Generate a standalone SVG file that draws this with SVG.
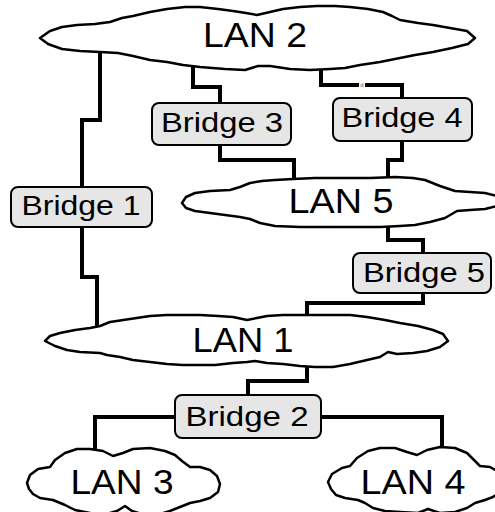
<svg xmlns="http://www.w3.org/2000/svg" width="495" height="512" viewBox="0 0 495 512">
<style>
.cloud{fill:#fff;stroke:#000;stroke-width:2.5;stroke-linejoin:round}
.box{fill:#e6e6e6;stroke:#000;stroke-width:2}
.lan{font-family:"Liberation Sans",Arial,sans-serif;font-size:35px;fill:#000}
.br{font-family:"Liberation Sans",Arial,sans-serif;font-size:28px;fill:#000}
.wire{fill:none;stroke:#000;stroke-width:4;stroke-linejoin:miter;stroke-linecap:square}
</style>
<rect width="495" height="512" fill="#fff"/>
<g id="connectors">
<path class="wire" d="M100,55 V120 H82 V187"/>
<path class="wire" d="M82,227 V277 H97 V325"/>
<path class="wire" d="M193,68 V87 H220 V103"/>
<path class="wire" d="M220,145 V160 H294 V178"/>
<path class="wire" d="M321,66 V85 H357 M367,85 H402 V98"/>
<path class="wire" d="M402,141 V160 H388 V178"/>
<path class="wire" d="M388,227 V240 H423 V253"/>
<path class="wire" d="M423,293 V303 H307 V317"/>
<path class="wire" d="M307,365 V381 H248 V395"/>
<path class="wire" d="M175,417 H95 V450"/>
<path class="wire" d="M321,417 H442 V453"/>
<text x="362" y="87" font-family="Liberation Sans,Arial,sans-serif" font-size="6" fill="#555" text-anchor="middle">d</text>
</g>
<g id="lan2">
<path class="cloud" d="M40,38 L50,31 L62,27 L77,25 L95,24 L110,22 L122,18 L133,16 L150,12 L167,9 L185,7 L200,7 L218,9 L233,11 L246,13 L257,15 L270,12 L283,9 L300,7 L317,6 L335,6 L350,7 L368,9 L383,12 L392,16 L400,20 L418,23 L433,25 L450,28 L467,31 L475,38 L468,44 L452,48 L433,52 L415,55 L400,58 L380,62 L360,65 L345,68 L330,69 L310,70 L290,69 L270,66 L258,66 L245,70 L225,69 L200,67 L183,65 L167,62 L150,60 L133,56 L118,53 L100,52 L80,51 L62,49 L48,44 Z"/>
<text class="lan" x="255" y="47" text-anchor="middle" textLength="104" lengthAdjust="spacingAndGlyphs">LAN 2</text>
</g>
<g id="bridge3">
<rect class="box" x="152" y="103" width="139" height="42" rx="7"/>
<text class="br" x="222" y="132" text-anchor="middle" textLength="122" lengthAdjust="spacingAndGlyphs">Bridge 3</text>
</g>
<g id="bridge4">
<rect class="box" x="333" y="98" width="139" height="43" rx="7"/>
<text class="br" x="402" y="127" text-anchor="middle" textLength="121" lengthAdjust="spacingAndGlyphs">Bridge 4</text>
</g>
<g id="bridge1">
<rect class="box" x="11" y="187" width="141" height="40" rx="7"/>
<text class="br" x="81" y="215" text-anchor="middle" textLength="119" lengthAdjust="spacingAndGlyphs">Bridge 1</text>
</g>
<g id="lan5">
<path class="cloud" d="M182,203 L186,197 L195,193 L210,191 L230,190 L240,187 L250,183 L262,181 L275,180 L293,179 L315,178 L340,178 L370,178 L395,177 L413,178 L425,180 L440,186 L455,191 L470,192 L485,193 L497,196 L500,200 L497,206 L485,209 L470,210 L457,211 L445,218 L430,222 L415,225 L400,226 L380,227 L355,227 L330,227 L300,227 L275,226 L260,223 L250,219 L240,217 L225,215 L210,213 L195,211 L186,208 Z"/>
<text class="lan" x="341" y="213" text-anchor="middle" textLength="105" lengthAdjust="spacingAndGlyphs">LAN 5</text>
</g>
<g id="bridge5">
<rect class="box" x="353" y="253" width="138" height="40" rx="7"/>
<text class="br" x="424" y="282" text-anchor="middle" textLength="122" lengthAdjust="spacingAndGlyphs">Bridge 5</text>
</g>
<g id="lan1">
<path class="cloud" d="M45,341 L50,336 L60,333 L75,330 L90,328 L100,326 L110,322 L130,319 L150,316 L167,315 L183,315 L200,315 L218,316 L233,317 L247,320 L257,318 L267,316 L283,315 L300,315 L317,315 L333,315 L350,315 L367,317 L385,320 L400,323 L418,326 L433,330 L443,334 L448,341 L440,347 L427,351 L413,353 L397,354 L388,352 L380,357 L367,360 L350,364 L333,367 L315,367 L300,366 L283,364 L267,363 L255,361 L247,362 L233,363 L215,365 L200,365 L183,365 L167,364 L150,362 L133,360 L120,357 L107,355 L100,353 L80,352 L67,350 L55,346 Z"/>
<text class="lan" x="243" y="352" text-anchor="middle" textLength="101" lengthAdjust="spacingAndGlyphs">LAN 1</text>
</g>
<g id="bridge2">
<rect class="box" x="175" y="395" width="146" height="43" rx="7"/>
<text class="br" x="247" y="426" text-anchor="middle" textLength="123" lengthAdjust="spacingAndGlyphs">Bridge 2</text>
</g>
<g id="lan3">
<path class="cloud" d="M27,483 L30,475 L38,469 L50,467 L55,460 L65,453 L77,449 L90,449 L103,451 L113,456 L123,453 L133,449 L150,448 L165,451 L175,455 L182,461 L190,467 L200,467 L210,470 L217,476 L220,484 L218,492 L210,498 L200,501 L190,503 L180,507 L170,511 L160,514 L145,515 L132,511 L125,506 L117,511 L103,515 L90,513 L75,510 L65,505 L53,500 L40,498 L33,494 L29,489 Z"/>
<text class="lan" x="122" y="494" text-anchor="middle" textLength="103" lengthAdjust="spacingAndGlyphs">LAN 3</text>
</g>
<g id="lan4">
<path class="cloud" d="M328,482 L332,474 L342,468 L350,466 L357,458 L368,451 L380,448 L395,448 L407,452 L417,455 L427,450 L440,447 L455,448 L467,453 L474,460 L480,466 L490,467 L497,471 L502,477 L503,484 L500,492 L493,497 L485,500 L475,503 L467,508 L455,512 L440,513 L428,509 L418,513 L400,512 L385,511 L373,508 L365,503 L358,500 L345,498 L336,495 L331,489 Z"/>
<text class="lan" x="413" y="494" text-anchor="middle" textLength="105" lengthAdjust="spacingAndGlyphs">LAN 4</text>
</g>
</svg>
